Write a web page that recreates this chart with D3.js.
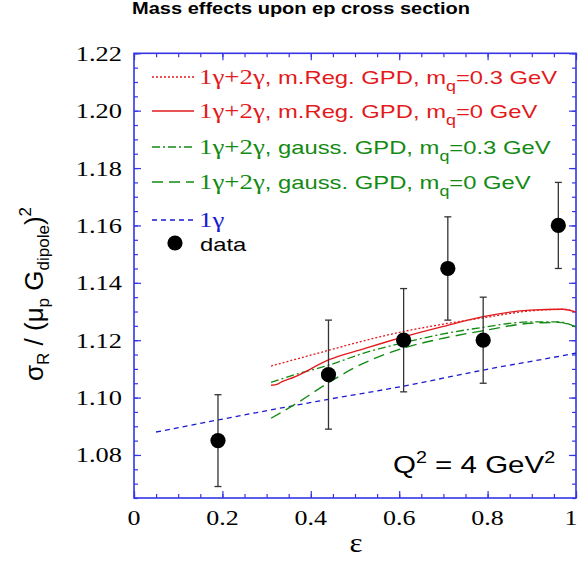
<!DOCTYPE html>
<html><head><meta charset="utf-8">
<script src="https://cdn.jsdelivr.net/npm/d3@7"></script>
<style>body{margin:0;background:#fff}svg{display:block}</style>
</head><body>
<svg id="c" width="578" height="561"></svg>
<script>
// ---- data ----
const dataEps = [0.19, 0.44, 0.61, 0.71, 0.79, 0.96];
const dataVal = [1.085, 1.108, 1.120, 1.145, 1.120, 1.160];
const dataErr = [0.016, 0.019, 0.018, 0.018, 0.015, 0.015];

const oneGammaEps = [0.05, 0.19, 0.44, 0.61, 0.79, 0.99, 1.0];
const oneGammaVal = [1.0880, 1.0922, 1.0994, 1.1040, 1.1096, 1.1152, 1.1155];

const regM0Eps = [0.31, 0.325, 0.334, 0.36, 0.443, 0.52, 0.609, 0.70, 0.79, 0.896, 0.97, 1.0];
const regM0Val = [1.1043, 1.1047, 1.1055, 1.1070, 1.1133, 1.1170, 1.1211, 1.1248, 1.1282, 1.1305, 1.1308, 1.1298];

const regM3Eps = [0.31, 0.443, 0.52, 0.609, 0.70, 0.79, 0.896, 0.97, 1.0];
const regM3Val = [1.1110, 1.1166, 1.1198, 1.1230, 1.1256, 1.1278, 1.1302, 1.1308, 1.1298];

const gaussM3Eps = [0.31, 0.36, 0.443, 0.52, 0.609, 0.70, 0.79, 0.896, 0.96, 1.0];
const gaussM3Val = [1.1053, 1.1078, 1.1114, 1.1155, 1.1191, 1.1222, 1.1245, 1.1264, 1.1264, 1.1246];

const gaussM0Eps = [0.31, 0.368, 0.443, 0.52, 0.609, 0.70, 0.79, 0.896, 0.96, 1.0];
const gaussM0Val = [1.0928, 1.0980, 1.1055, 1.1120, 1.1172, 1.1207, 1.1233, 1.1259, 1.1262, 1.1246];

const xTickMajor = [0, 0.2, 0.4, 0.6, 0.8, 1];
const xTickLabels = ["0", "0.2", "0.4", "0.6", "0.8", "1"];
const yTickMajor = [1.08, 1.10, 1.12, 1.14, 1.16, 1.18, 1.20, 1.22];
const yTickLabels = ["1.08", "1.10", "1.12", "1.14", "1.16", "1.18", "1.20", "1.22"];

// ---- layout ----
const svg = d3.select("#c");
const L = 134, R = 576, T = 53.3, B = 498;
const x = d3.scaleLinear().domain([0, 1]).range([L, R]);
const y = d3.scaleLinear().domain([1.065, 1.22]).range([B, T]);
const axisCol = "#3535e6";
const red = "#e31a1c", green = "#138a13", blue = "#1a1ad0";
const sans = "'Liberation Sans', Arial, Helvetica, sans-serif";
const serif = "'Liberation Serif', 'Times New Roman', serif";

// horizontally stretched text helper
function stext(parent, px, py, sx, anchor){
  return parent.append("g").attr("transform", `translate(${px},${py}) scale(${sx},1)`)
    .append("text").attr("x", 0).attr("y", 0).attr("text-anchor", anchor || "start");
}

// title
stext(svg, 301, 14, 1.25, "middle")
  .attr("font-family", sans).attr("font-weight", "bold").attr("font-size", 16)
  .text("Mass effects upon ep cross section");

// axes with d3 axis generators (inward ticks)
const g = svg.append("g");
function styleAxis(sel){
  sel.selectAll("path").remove();
  sel.selectAll("line").attr("stroke", axisCol).attr("stroke-width", 1.2);
  sel.selectAll("text").remove();
}
const xMinor = d3.range(0, 1.0001, 0.05);
const yMinor = d3.range(1.065, 1.2201, 0.005);
g.append("g").attr("transform", `translate(0,${B})`).call(d3.axisBottom(x).tickValues(xMinor).tickSize(-4)).call(styleAxis);
g.append("g").attr("transform", `translate(0,${B})`).call(d3.axisBottom(x).tickValues(xTickMajor).tickSize(-7)).call(styleAxis);
g.append("g").attr("transform", `translate(0,${T})`).call(d3.axisTop(x).tickValues(xMinor).tickSize(-4)).call(styleAxis);
g.append("g").attr("transform", `translate(0,${T})`).call(d3.axisTop(x).tickValues(xTickMajor).tickSize(-7)).call(styleAxis);
g.append("g").attr("transform", `translate(${L},0)`).call(d3.axisLeft(y).tickValues(yMinor).tickSize(-4)).call(styleAxis);
g.append("g").attr("transform", `translate(${L},0)`).call(d3.axisLeft(y).tickValues(yTickMajor).tickSize(-7)).call(styleAxis);
g.append("g").attr("transform", `translate(${R},0)`).call(d3.axisRight(y).tickValues(yMinor).tickSize(-4)).call(styleAxis);
g.append("g").attr("transform", `translate(${R},0)`).call(d3.axisRight(y).tickValues(yTickMajor).tickSize(-7)).call(styleAxis);
g.append("rect").attr("x", L).attr("y", T).attr("width", R - L).attr("height", B - T)
  .attr("fill", "none").attr("stroke", axisCol).attr("stroke-width", 1.6);

// tick labels
xTickMajor.forEach((d, i) => {
  stext(svg, Math.min(x(d), 571), 525, 1.3, "middle")
    .attr("font-family", serif).attr("font-size", 20).text(xTickLabels[i]);
});
yTickMajor.forEach((d, i) => {
  stext(svg, 122, y(d) + 7.5, 1.2, "end")
    .attr("font-family", serif).attr("font-size", 22).text(yTickLabels[i]);
});

// axis titles
stext(svg, 356, 552, 1.15, "middle").attr("font-family", serif).attr("font-size", 27).text("ε");
const yt = svg.append("g").attr("transform", "translate(43,294) rotate(-90)")
  .append("text").attr("text-anchor", "middle").attr("font-family", sans).attr("font-size", 26);
yt.append("tspan").text("σ");
yt.append("tspan").attr("font-size", 17).attr("dy", 6).text("R");
yt.append("tspan").attr("dy", -6).text("  / (μ");
yt.append("tspan").attr("font-size", 17).attr("dy", 6).text("p");
yt.append("tspan").attr("dy", -6).text(" G");
yt.append("tspan").attr("font-size", 17).attr("dy", 6).text("dipole");
yt.append("tspan").attr("dy", -6).text(")");
yt.append("tspan").attr("font-size", 17).attr("dy", -12).text("2");

// curves
const line = d3.line().x(d => x(d[0])).y(d => y(d[1])).curve(d3.curveMonotoneX);
function curve(eps, val, col, dash, w){
  svg.append("path").datum(d3.zip(eps, val)).attr("d", line)
    .attr("fill", "none").attr("stroke", col).attr("stroke-width", w)
    .attr("stroke-dasharray", dash);
}
curve(oneGammaEps, oneGammaVal, blue, "5,4", 1.3);
curve(gaussM0Eps, gaussM0Val, green, "11,6", 1.4);
curve(gaussM3Eps, gaussM3Val, green, "8,3,2,3", 1.3);
curve(regM3Eps, regM3Val, red, "2,2", 1.3);
curve(regM0Eps, regM0Val, red, null, 1.4);

// data points
const pts = svg.append("g");
dataEps.forEach((e, i) => {
  const cx = x(e), y0 = y(dataVal[i] - dataErr[i]), y1 = y(dataVal[i] + dataErr[i]);
  pts.append("line").attr("x1", cx).attr("x2", cx).attr("y1", y0).attr("y2", y1).attr("stroke", "#333").attr("stroke-width", 1.3);
  pts.append("line").attr("x1", cx - 3.5).attr("x2", cx + 3.5).attr("y1", y0).attr("y2", y0).attr("stroke", "#333").attr("stroke-width", 1.3);
  pts.append("line").attr("x1", cx - 3.5).attr("x2", cx + 3.5).attr("y1", y1).attr("y2", y1).attr("stroke", "#333").attr("stroke-width", 1.3);
  pts.append("circle").attr("cx", cx).attr("cy", y(dataVal[i])).attr("r", 7.6).attr("fill", "#000");
});

// legend
const legRows = [
  {y: 77, col: red, dash: "2,2", label: "m.Reg. GPD, m", m: "=0.3 GeV"},
  {y: 111, col: red, dash: null, label: "m.Reg. GPD, m", m: "=0 GeV"},
  {y: 147, col: green, dash: "8,3,2,3", label: "gauss. GPD, m", m: "=0.3 GeV"},
  {y: 182, col: green, dash: "11,6", label: "gauss. GPD, m", m: "=0 GeV"}
];
legRows.forEach(r => {
  svg.append("line").attr("x1", 152).attr("x2", 194).attr("y1", r.y).attr("y2", r.y)
    .attr("stroke", r.col).attr("stroke-width", 1.3).attr("stroke-dasharray", r.dash);
  const t = stext(svg, 199, r.y + 6.5, 1.28).attr("fill", r.col);
  t.append("tspan").attr("font-family", serif).attr("font-size", 21).text("1γ+2γ");
  t.append("tspan").attr("font-family", sans).attr("font-size", 18.6).text(", " + r.label);
  t.append("tspan").attr("font-family", sans).attr("font-size", 14).attr("dy", 7).text("q");
  t.append("tspan").attr("font-family", sans).attr("font-size", 18.6).attr("dy", -7).text(r.m);
});
svg.append("line").attr("x1", 152).attr("x2", 194).attr("y1", 220).attr("y2", 220)
  .attr("stroke", blue).attr("stroke-width", 1.3).attr("stroke-dasharray", "5,4");
stext(svg, 199, 226.5, 1.28).attr("fill", blue).attr("font-family", serif).attr("font-size", 21).text("1γ");
svg.append("circle").attr("cx", 175).attr("cy", 243).attr("r", 7.6).attr("fill", "#000");
stext(svg, 200, 250.5, 1.28).attr("font-family", sans).attr("font-size", 18.6).text("data");

// Q^2 label
const q = stext(svg, 393, 473, 1.23).attr("font-family", sans).attr("font-size", 24);
q.append("tspan").text("Q");
q.append("tspan").attr("font-size", 16).attr("dy", -10).text("2");
q.append("tspan").attr("dy", 10).text(" = 4 GeV");
q.append("tspan").attr("font-size", 16).attr("dy", -10).text("2");
</script>
</body></html>
